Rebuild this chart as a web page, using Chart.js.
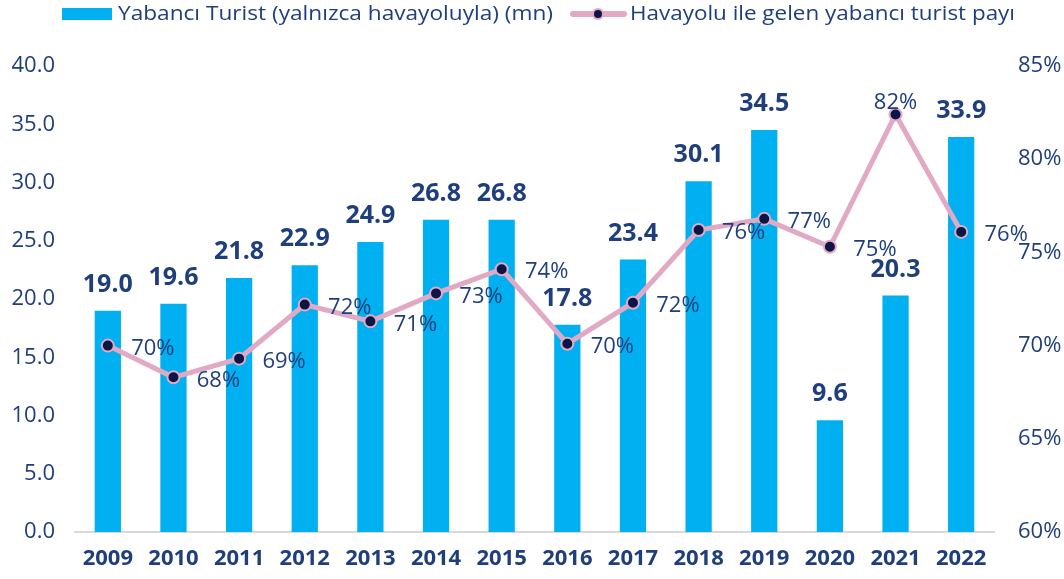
<!DOCTYPE html>
<html lang="tr">
<head>
<meta charset="UTF-8">
<title>Yabancı Turist</title>
<script src="https://cdn.jsdelivr.net/npm/chart.js"></script>
<style>
  html, body { margin: 0; padding: 0; background: #fff; }
  #wrap { width: 1064px; height: 579px; }
</style>
</head>
<body>
<div id="wrap"><canvas id="myChart" width="1064" height="579"></canvas></div>
<script>
const years = ['2009','2010','2011','2012','2013','2014','2015','2016','2017','2018','2019','2020','2021','2022'];
const tourists = [19.0, 19.6, 21.8, 22.9, 24.9, 26.8, 26.8, 17.8, 23.4, 30.1, 34.5, 9.6, 20.3, 33.9];
const airShare = [70.0, 68.3, 69.3, 72.2, 71.3, 72.8, 74.1, 70.1, 72.3, 76.2, 76.8, 75.3, 82.4, 76.1];
const barName = 'Yabancı Turist (yalnızca havayoluyla) (mn)';
const lineName = 'Havayolu ile gelen yabancı turist payı';

const navy = '#1F3E7C';
const blue = '#00B0F0';
const pink = '#E2A9C5';
const dot = '#0B1646';
const fontFam = '"Open Sans", Lato, sans-serif';

// metni verilen genişliğe sığdır (legend için)
function fitText(ctx, txt, x, y, w) {
  const m = ctx.measureText(txt).width;
  ctx.save();
  ctx.translate(x, y);
  ctx.scale(w / m, 1);
  ctx.fillText(txt, 0, 0);
  ctx.restore();
}

// etiketler ve legend
const labelPlugin = {
  id: 'labels',
  afterDatasetsDraw(chart) {
    const ctx = chart.ctx;
    ctx.save();
    // bar değerleri
    const barMeta = chart.getDatasetMeta(0);
    ctx.fillStyle = navy;
    ctx.font = 'bold 25px ' + fontFam;
    ctx.textAlign = 'center';
    ctx.textBaseline = 'middle';
    barMeta.data.forEach((bar, i) => {
      ctx.fillText(tourists[i].toFixed(1), bar.x, bar.y - 26);
    });
    // yüzde değerleri
    const lineMeta = chart.getDatasetMeta(1);
    ctx.font = '22px ' + fontFam;
    lineMeta.data.forEach((pt, i) => {
      const txt = Math.round(airShare[i]) + '%';
      if (i === 12) {
        ctx.fillText(txt, pt.x, pt.y - 12);
      } else {
        ctx.fillText(txt, pt.x + 45, pt.y + 3);
      }
    });
    // legend
    ctx.fillStyle = blue;
    ctx.fillRect(62, 8, 50, 12);
    ctx.fillStyle = navy;
    ctx.font = '20px ' + fontFam;
    ctx.textAlign = 'left';
    ctx.textBaseline = 'middle';
    fitText(ctx, barName, 118, 14, 435);
    ctx.strokeStyle = pink;
    ctx.lineWidth = 6;
    ctx.lineCap = 'round';
    ctx.beginPath();
    ctx.moveTo(573, 14);
    ctx.lineTo(624, 14);
    ctx.stroke();
    ctx.beginPath();
    ctx.arc(598, 14, 5, 0, Math.PI * 2);
    ctx.fillStyle = dot;
    ctx.fill();
    ctx.lineWidth = 2;
    ctx.stroke();
    ctx.fillStyle = navy;
    fitText(ctx, lineName, 630, 14, 385);
    ctx.restore();
  }
};

const ctx = document.getElementById('myChart').getContext('2d');
const myChart = new Chart(ctx, {
  type: 'bar',
  data: {
    labels: years,
    datasets: [{
      label: barName,
      data: tourists,
      backgroundColor: blue,
      yAxisID: 'y',
      categoryPercentage: 1,
      barPercentage: 0.4,
      order: 2
    }, {
      type: 'line',
      label: lineName,
      data: airShare,
      borderColor: pink,
      borderWidth: 5,
      pointRadius: 6,
      pointBackgroundColor: dot,
      pointBorderColor: pink,
      pointBorderWidth: 2,
      yAxisID: 'y1',
      order: 1
    }]
  },
  options: {
    responsive: false,
    animation: false,
    layout: { padding: { top: 66, left: 0, right: 0, bottom: 0 } },
    plugins: {
      legend: { display: false },
      tooltip: { enabled: false }
    },
    scales: {
      x: {
        grid: { display: false },
        border: { display: true, color: '#D9D9D9', width: 2 },
        ticks: { color: navy, font: { family: fontFam, size: 22, weight: 'bold' }, padding: 6 },
        afterFit(s) { s.height = 47; }
      },
      y: {
        position: 'left',
        min: 0, max: 40,
        grid: { display: false },
        border: { display: false },
        ticks: { stepSize: 5, color: navy, font: { family: fontFam, size: 22 }, padding: 12,
                 callback: v => v.toFixed(1) },
        afterFit(s) { s.width = 75; }
      },
      y1: {
        position: 'right',
        min: 60, max: 85,
        grid: { display: false },
        border: { display: false },
        ticks: { stepSize: 5, color: navy, font: { family: fontFam, size: 22 }, padding: 16,
                 callback: v => v + '%' },
        afterFit(s) { s.width = 70; }
      }
    }
  },
  plugins: [labelPlugin]
});
</script>
</body>
</html>
